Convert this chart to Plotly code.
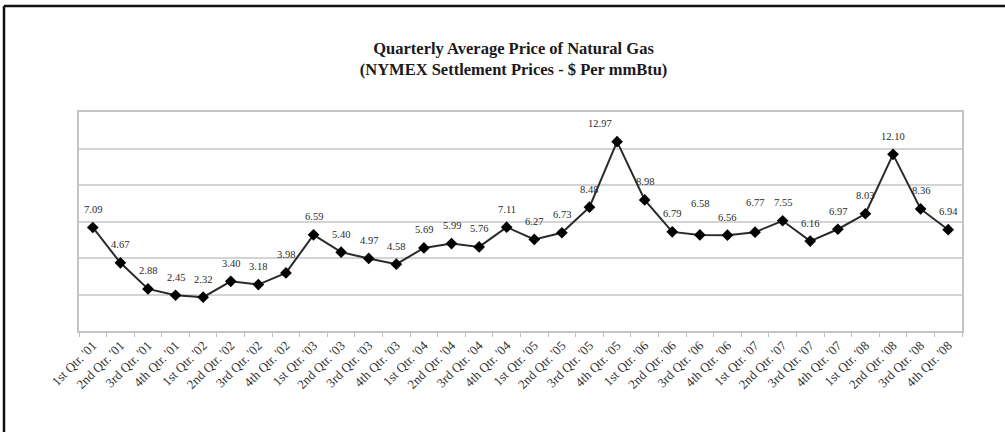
import plotly.graph_objects as go

quarters = ["1st", "2nd", "3rd", "4th"]
years = ["01", "02", "03", "04", "05", "06", "07", "08"]
categories = [f"{q} Qtr. '{y}" for y in years for q in quarters]

prices = [7.09, 4.67, 2.88, 2.45,
          2.32, 3.40, 3.18, 3.98,
          6.59, 5.40, 4.97, 4.58,
          5.69, 5.99, 5.76, 7.11,
          6.27, 6.73, 8.48, 12.97,
          8.98, 6.79, 6.58, 6.56,
          6.77, 7.55, 6.16, 6.97,
          8.03, 12.10, 8.36, 6.94]

title_line1 = "Quarterly Average Price of Natural Gas"
title_line2 = "(NYMEX Settlement Prices - $ Per mmBtu)"

# label placement tweaks (style): index -> (xshift, yshift)
label_shift = {19: (-17, 18), 22: (0, 31), 24: (0, 30)}

SERIF = "Liberation Serif, Times New Roman, serif"

fig = go.Figure()
fig.add_trace(go.Scatter(
    x=categories, y=prices, mode="lines+markers",
    line=dict(color="#2a2a2a", width=2),
    marker=dict(symbol="diamond", size=9, color="#000000"),
    hoverinfo="x+y", showlegend=False,
))

for i, (c, v) in enumerate(zip(categories, prices)):
    xs, ys = label_shift.get(i, (0, 18))
    fig.add_annotation(x=c, y=v, text=f"{v:.2f}", showarrow=False,
                       xshift=xs, yshift=ys, yanchor="middle",
                       font=dict(family=SERIF, size=10.5, color="#2a2a2a"))

# outer frame (top and left edges of the cropped screenshot)
fig.add_shape(type="line", xref="paper", yref="paper",
              x0=(4 - 79) / 883, x1=(1005 - 79) / 883,
              y0=(331 - 6) / 219, y1=(331 - 6) / 219,
              line=dict(color="#111111", width=2.5))
fig.add_shape(type="line", xref="paper", yref="paper",
              x0=(4 - 79) / 883, x1=(4 - 79) / 883,
              y0=(331 - 6) / 219, y1=(331 - 432) / 219,
              line=dict(color="#111111", width=2.5))

fig.update_layout(
    width=1005, height=432,
    margin=dict(l=79, r=43, t=112, b=101, autoexpand=False),
    paper_bgcolor="white", plot_bgcolor="white",
    title=dict(text=f"<b>{title_line1}</b><br><b>{title_line2}</b>",
               x=0.511, xanchor="center", y=0.875, yanchor="middle",
               font=dict(family=SERIF, size=16.5, color="#1a1a1a")),
    xaxis=dict(type="category", range=[-0.5, len(categories) - 0.5],
               automargin=False,
               tickangle=-45, tickson="boundaries", ticks="outside",
               ticklen=4, tickcolor="#bbbbbb", showgrid=False,
               showline=True, linecolor="#c4c4c4", linewidth=1.5, mirror=True,
               tickfont=dict(family=SERIF, size=13, color="#333333")),
    yaxis=dict(range=[0, 15], dtick=2.5, showticklabels=False,
               automargin=False,
               showgrid=True, gridcolor="#d4d4d4", gridwidth=1.5,
               zeroline=False, showline=True, linecolor="#c4c4c4",
               linewidth=1.5, mirror=True, ticks=""),
)

fig.write_html("out.html", config={"displayModeBar": False},
               post_script="document.body.style.margin='0';")
